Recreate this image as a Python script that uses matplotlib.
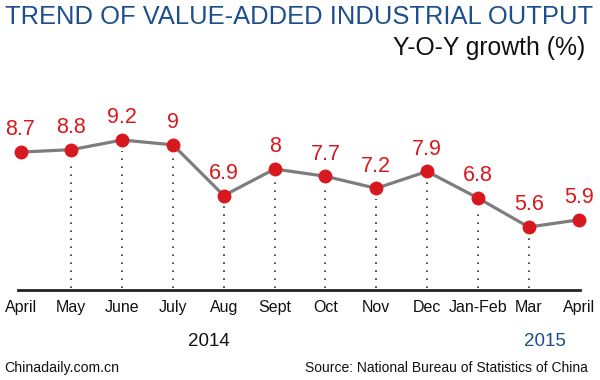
import matplotlib
matplotlib.use('Agg')
import matplotlib.pyplot as plt

# data
months = ['April', 'May', 'June', 'July', 'Aug', 'Sept', 'Oct', 'Nov',
          'Dec', 'Jan-Feb', 'Mar', 'April']
growth = [8.7, 8.8, 9.2, 9, 6.9, 8, 7.7, 7.2, 7.9, 6.8, 5.6, 5.9]
value_labels = ['8.7', '8.8', '9.2', '9', '6.9', '8', '7.7', '7.2', '7.9',
                '6.8', '5.6', '5.9']
year_labels = ['2014', '2015']

plt.rcParams['font.family'] = ['Liberation Sans', 'DejaVu Sans']

RED = '#d7181f'
BLUE = '#1c4f8d'
GRAY = '#7d7d7d'

W, H = 600, 380
fig = plt.figure(figsize=(6, 3.8), dpi=100)
fig.patch.set_facecolor('white')

# axes placed in pixel terms
ax = fig.add_axes([18 / W, 90 / H, 562 / W, 230 / H])
x = list(range(len(months)))
ymin = 2.994
ax.set_xlim(-0.05, 11.01)
ax.set_ylim(ymin, 12.51)

# dotted drop lines (not on the two end points)
for i in range(1, len(growth) - 1):
    ax.plot([i, i], [ymin + 0.08, growth[i] - 0.45], color='#333333',
            lw=1.2, linestyle=(0, (1, 3.8)), zorder=1)

ax.plot(x, growth, color=GRAY, lw=2.3, zorder=2, clip_on=False)
ax.plot(x, growth, 'o', color=RED, markersize=10, markeredgewidth=0,
        zorder=3, clip_on=False)

for i, (v, lab) in enumerate(zip(growth, value_labels)):
    ax.annotate(lab, (i, v), xytext=(0, 12), textcoords='offset points',
                ha='center', va='baseline', fontsize=15.5, color=RED)

for s in ['top', 'right', 'left']:
    ax.spines[s].set_visible(False)
ax.spines['bottom'].set_color('#222222')
ax.spines['bottom'].set_linewidth(2)
ax.set_yticks([])
ax.set_xticks(x)
ax.set_xticklabels(months, fontsize=11.5, color='#111111')
ax.tick_params(axis='x', length=0, pad=7)

# titles and notes
fig.text(5 / W, 1 - 17 / H, 'TREND OF VALUE-ADDED INDUSTRIAL OUTPUT',
         ha='left', va='center', fontsize=18.4, color=BLUE)
fig.text(585 / W, 1 - 48 / H, 'Y-O-Y growth (%)', ha='right', va='center',
         fontsize=17.8, color='#111111')
fig.text(209 / W, 1 - 341 / H, year_labels[0], ha='center', va='center',
         fontsize=13.5, color='#111111')
fig.text(545 / W, 1 - 341 / H, year_labels[1], ha='center', va='center',
         fontsize=13.5, color=BLUE)
fig.text(4 / W, 1 - 368 / H, 'Chinadaily.com.cn', ha='left', va='center',
         fontsize=10.2, color='#111111')
fig.text(588 / W, 1 - 368 / H, 'Source: National Bureau of Statistics of China',
         ha='right', va='center', fontsize=10, color='#111111')

fig.savefig('out.png', dpi=100)
